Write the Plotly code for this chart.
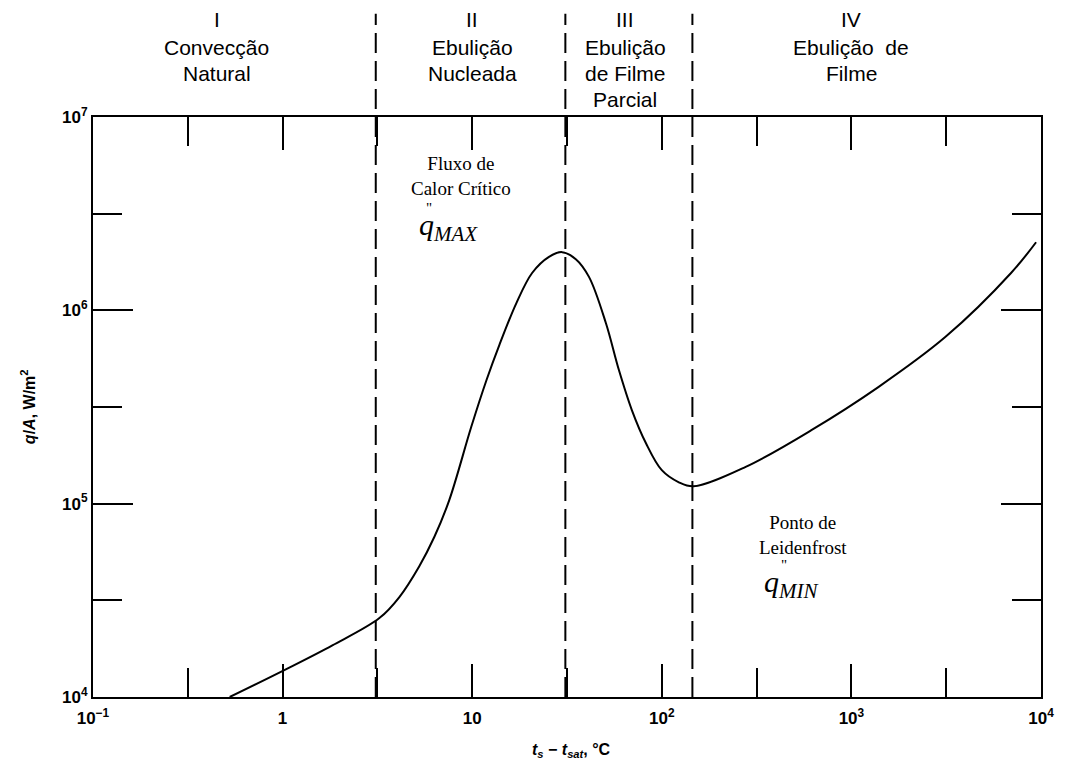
import plotly.graph_objects as go
import math

# ---- data ----
delta_t = [0.526, 1.04, 1.83, 3.24, 4.13, 5.26, 6.31, 7.56, 9.88, 11.9, 13.9, 17.1,
           20.7, 25.4, 29.8, 35.2, 41.3, 50.7, 59.4, 69.5, 82.4, 100, 123, 147, 277, 615,
           1387, 3126, 6950, 9420]
q_flux = [1.0e4, 1.39e4, 1.85e4, 2.56e4, 3.29e4, 4.75e4, 6.72e4, 1.04e5, 2.49e5, 4.36e5,
          6.61e5, 1.09e6, 1.56e6, 1.89e6, 2.0e6, 1.84e6, 1.49e6, 8.6e5, 4.91e5, 3.05e5, 2.06e5,
          1.49e5, 1.29e5, 1.23e5, 1.55e5, 2.40e5, 4.01e5, 7.27e5, 1.56e6, 2.25e6]

regime_bounds = [3.1, 31, 145]

x_tickvals = [0.1, 1, 10, 100, 1000, 10000]
x_ticktext = ["10<sup>−1</sup>", "1", "10", "10<sup>2</sup>", "10<sup>3</sup>", "10<sup>4</sup>"]
x_minor = [0.316, 3.16, 31.6, 316, 3160]
y_tickvals = [1e4, 1e5, 1e6, 1e7]
y_ticktext = ["10<sup>4</sup>", "10<sup>5</sup>", "10<sup>6</sup>", "10<sup>7</sup>"]
y_minor = [3.16e4, 3.16e5, 3.16e6]

regime_labels = [
    (0.45, ["I", "Convecção", "Natural"]),
    (10, ["II", "Ebulição", "Nucleada"]),
    (64, ["III", "Ebulição", "de Filme", "Parcial"]),
    (1000, ["IV", "Ebulição  de", "Filme"]),
]

SANS = "Liberation Sans, Arial, Helvetica, sans-serif"
SERIF = "Liberation Serif, Times New Roman, serif"

# page body has an 8px margin: compensate so the plot area lands at screen px 93..1043 x 117..697
OFF = 8
W, H = 1066 - OFF, 767 - OFF
L, R, T, B = 93 - OFF, 1066 - 1043, 117 - OFF, H - (697 - OFF)

fig = go.Figure()
fig.add_trace(go.Scatter(
    x=delta_t, y=q_flux, mode="lines",
    line=dict(color="black", width=2, shape="spline", smoothing=1.0),
    hoverinfo="skip",
))

shapes = []
for xb in regime_bounds:
    shapes.append(dict(type="line", xref="x", yref="paper", x0=xb, x1=xb, y0=0, y1=1.178,
                       line=dict(color="black", width=2, dash="20px,8px")))

H_PLOT = 580.0
def py(ypx):
    return (697 - ypx) / H_PLOT

annotations = []
line_y = [20, 47, 73, 99]
for xv, lines in regime_labels:
    for i, t in enumerate(lines):
        annotations.append(dict(text=t, xref="x", yref="paper", x=math.log10(xv), y=py(line_y[i]),
                                xanchor="center", yanchor="middle", showarrow=False,
                                font=dict(family=SANS, size=21, color="black")))

# serif annotations
annotations += [
    dict(text="Fluxo de<br>Calor Crítico", xref="x", yref="y", x=0.942, y=6.695,
         xanchor="center", yanchor="middle", showarrow=False,
         font=dict(family=SERIF, size=19, color="black")),
    dict(text="<i>q</i><sub><i>MAX</i></sub>", xref="x", yref="y", x=0.711, y=6.43,
         xanchor="left", yanchor="middle", showarrow=False,
         font=dict(family=SERIF, size=30, color="black")),
    dict(text="\"", xref="x", yref="y", x=0.774, y=6.529,
         xanchor="center", yanchor="middle", showarrow=False,
         font=dict(family=SERIF, size=15, color="black")),
    dict(text="Ponto de<br>Leidenfrost", xref="x", yref="y", x=2.747, y=4.84,
         xanchor="center", yanchor="middle", showarrow=False,
         font=dict(family=SERIF, size=19, color="black")),
    dict(text="<i>q</i><sub><i>MIN</i></sub>", xref="x", yref="y", x=2.526, y=4.585,
         xanchor="left", yanchor="middle", showarrow=False,
         font=dict(family=SERIF, size=30, color="black")),
    dict(text="\"", xref="x", yref="y", x=2.642, y=4.682,
         xanchor="center", yanchor="middle", showarrow=False,
         font=dict(family=SERIF, size=15, color="black")),
    # axis titles
    dict(text="<b><i>q</i>/<i>A</i>, W/m<sup>2</sup></b>", xref="paper", yref="paper",
         x=(28 - 93) / 950.0, y=0.5, textangle=-90, xanchor="center", yanchor="middle",
         showarrow=False, font=dict(family=SANS, size=16, color="black")),
    dict(text="<b><i>t</i><sub><i>s</i></sub> − <i>t</i><sub><i>sat</i></sub>, °C</b>",
         xref="paper", yref="paper", x=(573 - 93) / 950.0, y=py(750),
         xanchor="center", yanchor="middle", showarrow=False,
         font=dict(family=SANS, size=16, color="black")),
]

fig.update_layout(
    width=W, height=H,
    margin=dict(l=L, r=R, t=T, b=B),
    paper_bgcolor="white", plot_bgcolor="white",
    showlegend=False,
    shapes=shapes, annotations=annotations,
    xaxis=dict(type="log", range=[-1, 4], showgrid=False, zeroline=False,
               showline=True, linecolor="black", linewidth=2, mirror="ticks",
               ticks="inside", ticklen=33, tickwidth=1.8, tickcolor="black",
               tickvals=x_tickvals, ticktext=["<b>%s</b>" % t for t in x_ticktext],
               tickfont=dict(family=SANS, size=17, color="black"),
               ticklabelstandoff=5,
               minor=dict(tickvals=x_minor, ticks="inside", ticklen=29, tickwidth=1.8,
                          tickcolor="black", showgrid=False)),
    yaxis=dict(type="log", range=[4, 7], showgrid=False, zeroline=False,
               showline=True, linecolor="black", linewidth=2, mirror="ticks",
               ticks="inside", ticklen=40, tickwidth=1.8, tickcolor="black",
               tickvals=y_tickvals, ticktext=["<b>%s</b>" % t for t in y_ticktext],
               tickfont=dict(family=SANS, size=17, color="black"),
               minor=dict(tickvals=y_minor, ticks="inside", ticklen=29, tickwidth=1.8,
                          tickcolor="black", showgrid=False)),
)

fig.write_html("out.html")
